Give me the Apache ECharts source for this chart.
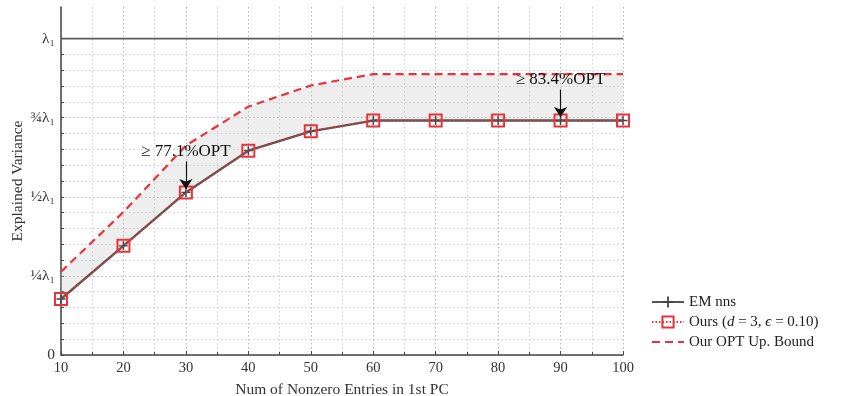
<!DOCTYPE html>
<html>
<head>
<meta charset="utf-8">
<script src="https://cdn.jsdelivr.net/npm/echarts@6/dist/echarts.min.js"></script>
<style>
  html, body { margin: 0; padding: 0; background: #fff; }
  #chart { width: 846px; height: 396px; }
</style>
</head>
<body>
<div id="chart"></div>
<script>
// Explained variance of the 1st PC vs. number of nonzero entries
const nnz = [10, 20, 30, 40, 50, 60, 70, 80, 90, 100];
const emNns = [0.177, 0.345, 0.514, 0.646, 0.707, 0.741, 0.741, 0.741, 0.741, 0.741];
const ours = [0.177, 0.345, 0.514, 0.646, 0.707, 0.741, 0.741, 0.741, 0.741, 0.741];
const optUpper = [0.263, 0.452, 0.662, 0.785, 0.852, 0.888, 0.888, 0.888, 0.888, 0.888];
const lambda1 = 1;

// y tick labels (fractions of lambda_1)
const yTickValues = [0, 0.25, 0.5, 0.75, 1];
const yTickLabels = ['0', '¼λ₁', '½λ₁', '¾λ₁', 'λ₁'];

// ratio callouts
const annotX = [30, 90];
const annotText = ['≥ 77.1%OPT', '≥ 83.4%OPT'];

const SERIF = "'Liberation Serif', 'DejaVu Serif', serif";
const RED = '#e8333a';

const pairs = (ys) => nnz.map((x, i) => [x, ys[i]]);
const oursAt = (x) => ours[nnz.indexOf(x)];

// minor y grid every 0.05 up to lambda_1; darker every 0.25
const yMinorStep = 0.05;
const yGridValues = [];
for (let k = 0; k <= 20; k++) yGridValues.push(+(k * yMinorStep).toFixed(2));
const yGridColors = [];
for (let k = 0; k <= 22; k++) {
  if (k > 20) yGridColors.push('rgba(0,0,0,0)');
  else yGridColors.push(k % 5 === 0 ? '#b4b4b4' : '#d2d2d2');
}

const chart = echarts.init(document.getElementById('chart'), null, { renderer: 'canvas' });

const option = {
  animation: false,
  backgroundColor: '#fff',
  textStyle: { fontFamily: SERIF },
  grid: { left: 61, right: 223, top: 7, bottom: 41, containLabel: false, outerBoundsMode: 'none' },
  legend: {
    data: [
      'EM nns',
      'Ours',
      { name: 'Our OPT Up. Bound', itemStyle: { opacity: 0 } }
    ],
    orient: 'vertical',
    left: 651,
    top: 294,
    padding: 0,
    itemGap: 4,
    itemWidth: 32,
    itemHeight: 14,
    textStyle: {
      fontFamily: SERIF, fontSize: 15, color: '#222', lineHeight: 16,
      rich: { i: { fontFamily: SERIF, fontSize: 15, fontStyle: 'italic', color: '#222' } }
    },
    formatter: (name) => name === 'Ours' ? 'Ours ({i|d} = 3, {i|ϵ} = 0.10)' : name
  },
  xAxis: {
    type: 'value',
    min: 10,
    max: 100,
    interval: 10,
    name: 'Num of Nonzero Entries in 1st PC',
    nameLocation: 'middle',
    nameGap: 27,
    nameMoveOverlap: false,
    nameTextStyle: { fontFamily: SERIF, fontSize: 15.5, color: '#333', verticalAlign: 'top' },
    axisLine: { show: true, onZero: false, lineStyle: { color: '#444', width: 1.5 } },
    axisTick: { show: true, inside: true, length: 4, lineStyle: { color: '#444', width: 1 } },
    minorTick: { show: true, splitNumber: 2, length: 3, lineStyle: { color: '#444', width: 1 } },
    axisLabel: { fontFamily: SERIF, fontSize: 14.5, color: '#333', margin: 6 },
    splitLine: { show: true, lineStyle: { color: '#b4b4b4', width: 1, type: [1.5, 2.5] } },
    minorSplitLine: { show: true, lineStyle: { color: '#d2d2d2', width: 1, type: [1.5, 2.5] } }
  },
  yAxis: {
    type: 'value',
    min: 0,
    max: 1.1,
    interval: yMinorStep,
    name: 'Explained Variance',
    nameLocation: 'middle',
    nameGap: 35,
    nameMoveOverlap: false,
    nameTextStyle: { fontFamily: SERIF, fontSize: 15.5, color: '#333' },
    axisLine: { show: true, lineStyle: { color: '#444', width: 1.5 } },
    axisTick: { show: true, inside: true, length: 3, customValues: yGridValues, lineStyle: { color: '#444', width: 1 } },
    axisLabel: {
      fontFamily: SERIF, fontSize: 15.5, color: '#333', margin: 6,
      customValues: yTickValues,
      formatter: (v) => {
        const idx = yTickValues.findIndex((t) => Math.abs(t - v) < 1e-6);
        return idx >= 0 ? yTickLabels[idx] : '';
      }
    },
    splitLine: { show: true, lineStyle: { color: yGridColors, width: 1, type: [1.5, 2.5] } }
  },
  series: [
    // shaded gap between our curve and the OPT upper bound
    {
      name: 'gap', type: 'custom', silent: true, z: 1,
      data: [[nnz[0], ours[0]]],
      renderItem: (params, api) => {
        const top = nnz.map((x, i) => api.coord([x, optUpper[i]]));
        const bottom = nnz.map((x, i) => api.coord([x, ours[i]])).reverse();
        return {
          type: 'polygon',
          shape: { points: top.concat(bottom) },
          style: { fill: 'rgba(200,200,200,0.3)' }
        };
      }
    },
    // lambda_1 reference level
    {
      name: 'lambda1', type: 'line', silent: true,
      data: [[nnz[0], lambda1], [nnz[nnz.length - 1], lambda1]],
      symbol: 'none',
      lineStyle: { color: '#5a5a5a', width: 1.8 }, z: 2
    },
    {
      name: 'EM nns', type: 'line',
      data: pairs(emNns),
      symbol: 'path://M0,4.2H10V5.8H0Z M4.2,0H5.8V10H4.2Z',
      symbolSize: 9,
      itemStyle: { color: '#444' },
      lineStyle: { color: '#555', width: 2.4 }, z: 3
    },
    {
      name: 'Ours', type: 'line',
      data: pairs(ours),
      symbol: 'rect',
      symbolSize: 12,
      itemStyle: { color: 'rgba(0,0,0,0)', borderColor: RED, borderWidth: 2 },
      lineStyle: { color: RED, width: 1.6, type: [1.5, 2] },
      z: 4,
      markLine: {
        silent: true,
        symbol: ['none', 'arrow'],
        symbolSize: 10,
        label: { show: false },
        lineStyle: { color: '#111', width: 1.2, type: 'solid' },
        data: annotX.map((x) => [
          { coord: [x, oursAt(x) + 0.098] },
          { coord: [x, oursAt(x) + 0.011] }
        ])
      },
      markPoint: {
        silent: true,
        symbol: 'rect',
        symbolSize: 1,
        itemStyle: { color: 'rgba(0,0,0,0)' },
        label: { show: true, position: 'inside', formatter: '{b}', fontFamily: SERIF, fontSize: 17, color: '#111' },
        data: annotX.map((x, i) => ({ name: annotText[i], coord: [x, oursAt(x) + 0.129] }))
      }
    },
    {
      name: 'Our OPT Up. Bound', type: 'line',
      data: pairs(optUpper),
      symbol: 'none',
      itemStyle: { color: RED },
      lineStyle: { color: RED, width: 2.2, type: [8, 5] }, z: 4
    }
  ]
};

chart.setOption(option);
</script>
</body>
</html>
